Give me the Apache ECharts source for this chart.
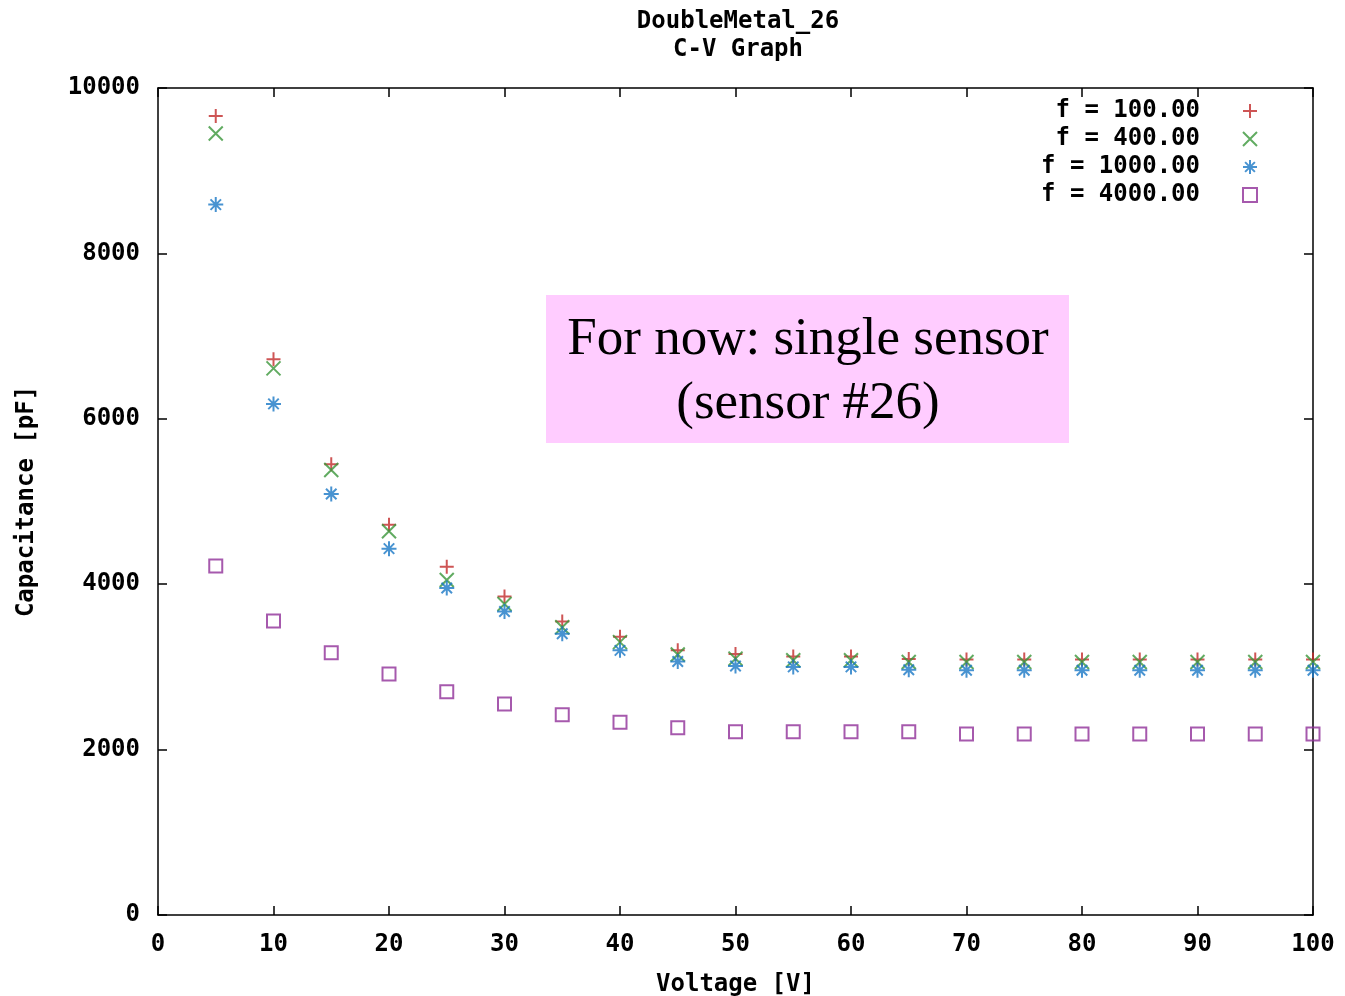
<!DOCTYPE html>
<html>
<head>
<meta charset="utf-8">
<script src="https://cdn.jsdelivr.net/npm/echarts@6/dist/echarts.min.js"></script>
<style>html,body{margin:0;padding:0;background:#fff}#c{width:1345px;height:996px}</style>
</head>
<body>
<div id="c"></div>
<script>
const voltages = [5,10,15,20,25,30,35,40,45,50,55,60,65,70,75,80,85,90,95,100];
const cap100  = [9660,6720,5450,4720,4210,3850,3550,3365,3200,3155,3125,3125,3095,3090,3090,3090,3090,3090,3090,3090];
const cap400  = [9450,6610,5380,4640,4050,3760,3480,3300,3150,3100,3080,3080,3060,3060,3060,3060,3060,3060,3060,3060];
const cap1000 = [8590,6180,5090,4430,3955,3670,3400,3200,3065,3010,3000,3000,2965,2960,2960,2960,2960,2960,2960,2960];
const cap4000 = [4220,3555,3170,2915,2700,2550,2420,2330,2265,2215,2215,2215,2215,2190,2190,2190,2190,2190,2190,2190];
const seriesNames = ['f = 100.00','f = 400.00','f = 1000.00','f = 4000.00'];
const xTicks = {min:0, max:100, interval:10};
const yTicks = {min:0, max:10000, interval:2000};

const FONT = 'DejaVu Sans Mono';
const FS = 24;
const SYM = {
  plus: 'path://M0,5L10,5M5,0L5,10',
  cross: 'path://M0,0L10,10M10,0L0,10',
  star: 'path://M0,5L10,5M5,0L5,10M1.5,1.5L8.5,8.5M8.5,1.5L1.5,8.5',
  box: 'path://M0,0L10,0L10,10L0,10Z'
};
const colors = ['#c22a2a','#3a963a','#1a78c6','#902f98'];
const symbols = [SYM.plus, SYM.cross, SYM.star, SYM.box];
const sizes = [14,14,15,13];
const dataSets = [cap100, cap400, cap1000, cap4000];
const maxLen = Math.max(...seriesNames.map(s=>s.length));

const chart = echarts.init(document.getElementById('c'), null, {renderer:'canvas'});
const axisCommon = {
  axisLine:{show:true, onZero:false, lineStyle:{color:'#000', width:1.5}},
  axisTick:{show:true, inside:true, length:9, lineStyle:{color:'#000', width:1.5}},
  splitLine:{show:false}
};
const labelStyle = {fontFamily:FONT, fontWeight:'bold', fontSize:FS, color:'#000'};
chart.setOption({
  animation:false,
  backgroundColor:'#fff',
  title:{
    text:'DoubleMetal_26\nC-V Graph',
    left:733, top:3, textAlign:'center',
    textStyle:{fontFamily:FONT, fontWeight:'bold', fontSize:FS, lineHeight:28, color:'#000'}
  },
  grid:{left:158, right:32, top:88, bottom:81, containLabel:false, outerBoundsMode:'none'},
  legend:{
    orient:'vertical', right:82, top:92, align:'right',
    itemWidth:90, itemHeight:14, itemGap:0,
    formatter: n => ' '.repeat(maxLen - n.length) + n,
    textStyle:{fontFamily:FONT, fontWeight:'bold', fontSize:FS, lineHeight:28, color:'#000'},
    data: seriesNames
  },
  xAxis:[
    Object.assign({type:'value', position:'bottom', min:xTicks.min, max:xTicks.max, interval:xTicks.interval,
      name:'Voltage [V]', nameLocation:'middle', nameGap:58,
      nameTextStyle:labelStyle,
      axisLabel:Object.assign({margin:18, formatter:v=>String(v)}, labelStyle)}, axisCommon),
    Object.assign({type:'value', position:'top', min:xTicks.min, max:xTicks.max, interval:xTicks.interval,
      axisLabel:{show:false}}, axisCommon)
  ],
  yAxis:[
    Object.assign({type:'value', position:'left', min:yTicks.min, max:yTicks.max, interval:yTicks.interval,
      name:'Capacitance [pF]', nameLocation:'middle', nameGap:119,
      nameTextStyle:labelStyle,
      axisLabel:Object.assign({margin:18, formatter:v=>String(v)}, labelStyle)}, axisCommon),
    Object.assign({type:'value', position:'right', min:yTicks.min, max:yTicks.max, interval:yTicks.interval,
      axisLabel:{show:false}}, axisCommon)
  ],
  graphic:[
    {type:'rect', shape:{x:546, y:295, width:523, height:148}, style:{fill:'#ffccff'}, z:1},
    {type:'text', x:808, y:372, z:2, style:{text:'For now: single sensor\n(sensor #26)', fill:'#000',
      font:'53px "Liberation Serif"', lineHeight:64, align:'center', verticalAlign:'middle'}}
  ],
  series: seriesNames.map((name,i)=>({
    name, type:'scatter', xAxisIndex:0, yAxisIndex:0,
    symbol: symbols[i], symbolSize: sizes[i], symbolKeepAspect:true,
    itemStyle:{color:'transparent', borderColor:colors[i], borderWidth:2},
    emphasis:{disabled:true},
    z: 3,
    data: voltages.map((v,k)=>[v, dataSets[i][k]])
  }))
});
</script>
</body>
</html>
